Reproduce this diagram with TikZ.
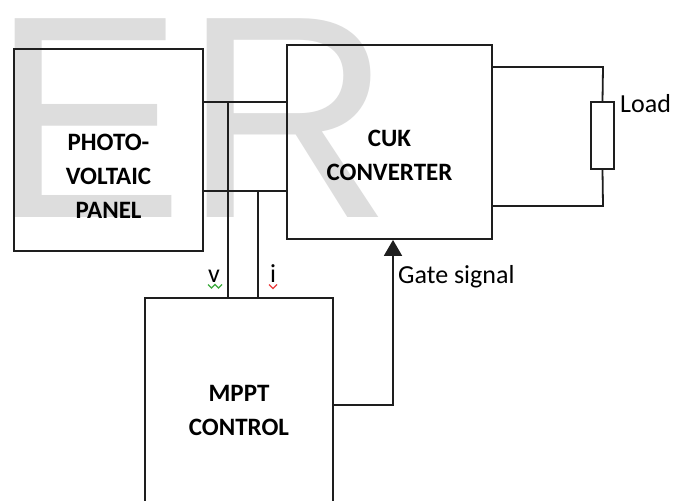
\documentclass[tikz,border=0pt]{standalone}
\usepackage{fontspec}
\setmainfont{Carlito}
\newfontfamily\wmfont{Liberation Sans}
\usetikzlibrary{arrows.meta}
\definecolor{wmgray}{RGB}{221,221,221}
\definecolor{ink}{RGB}{30,30,30}
\definecolor{sqgreen}{RGB}{60,170,60}
\definecolor{sqred}{RGB}{235,60,60}
\tikzset{
  blockbox/.style={draw=ink, line width=1.8pt, inner sep=0pt, minimum width=#1},
  boxlabel/.style={inner sep=0pt, align=center, font=\bfseries\fontsize{25}{34}\selectfont, text=black},
  smalllabel/.style={inner sep=0pt, font=\fontsize{26}{30}\selectfont, text=black},
  wire/.style={draw=ink, line width=1.8pt},
  loadbox/.style={draw=ink, line width=1.8pt, inner sep=0pt, minimum width=23pt, minimum height=67pt},
}
\begin{document}
\begin{tikzpicture}[x=1pt, y=-1pt]
\useasboundingbox (0,0) rectangle (684,500);
\clip (0,0) rectangle (684,500);
\fill[white] (0,0) rectangle (684,500);
% watermark
\node[anchor=base west, inner sep=0pt, text=wmgray, font=\wmfont\fontsize{289}{300}\selectfont] (wm) at (-9,217) {ER};
% boxes
\node[blockbox=189pt, minimum height=202pt] (pv) at (108.5,150) {};
\node[blockbox=205pt, minimum height=194pt] (cuk) at (389.5,142) {};
\node[blockbox=188pt, minimum height=217pt] (mppt) at (239,406.5) {};
\node[loadbox] (load) at (602.5,135.5) {};
% box texts
\node[boxlabel] (pvtxt) at (108.5,176) {PHOTO-\\VOLTAIC\\PANEL};
\node[boxlabel] (cuktxt) at (389.5,155) {CUK\\CONVERTER};
\node[boxlabel] (mppttxt) at (239,410) {MPPT\\CONTROL};
% wire levels
\coordinate (ytop) at (0,102);
\coordinate (ybot) at (0,191);
\coordinate (vx) at (228,0);
\coordinate (ix) at (258,0);
\coordinate (ltop) at (0,67);
\coordinate (lbot) at (0,206);
\coordinate (lx) at (603,0);
\coordinate (gx) at (393,0);
\coordinate (gy) at (0,405);
% PV to CUK
\draw[wire] (pv.east |- ytop) -- (cuk.west |- ytop);
\draw[wire] (pv.east |- ybot) -- (cuk.west |- ybot);
% sensing wires
\draw[wire] (vx |- ytop) -- (vx |- mppt.north);
\draw[wire] (ix |- ybot) -- (ix |- mppt.north);
% load loop
\draw[wire] (cuk.east |- ltop) -- (lx |- ltop) -- (load.north);
\draw[wire] (load.south) -- (lx |- lbot) -- (cuk.east |- lbot);
% gate signal
\draw[wire, -{Triangle[width=18pt,length=16pt]}] (mppt.east |- gy) -- (gx |- gy) -- (gx |- cuk.south);
% labels
\node[smalllabel, anchor=base west] (loadlbl) at (620,112) {Load};
\node[smalllabel, anchor=base west] (gatelbl) at (398,283) {Gate signal};
\node[smalllabel, anchor=base west] (vlbl) at (208,282) {v};
\node[smalllabel, anchor=base west] (ilbl) at (270,282) {i};
% spell-check squiggles
\draw[sqgreen, line width=1.2pt] (208,284.5) -- (211.5,288) -- (215,284.5) -- (218.5,288) -- (222,284.5);
\draw[sqred, line width=1.2pt] (269,284.5) -- (273,288.5) -- (277,284.5);
\end{tikzpicture}
\end{document}
